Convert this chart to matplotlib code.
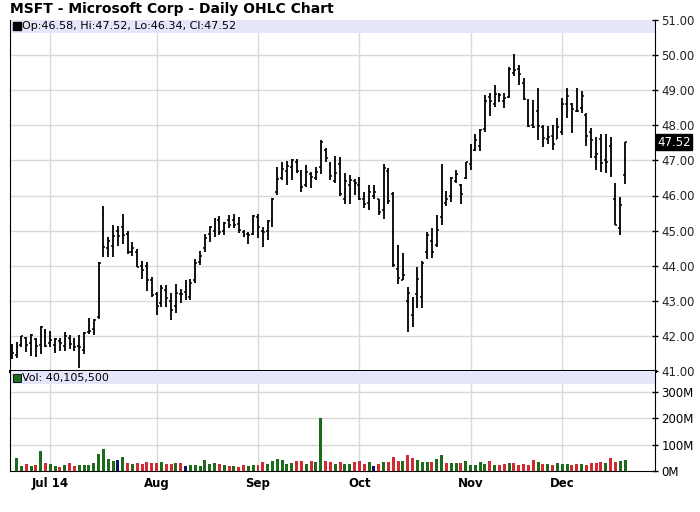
import numpy as np
import pandas as pd
import matplotlib

matplotlib.use("Agg")
import matplotlib.pyplot as plt

# --- data (MSFT daily, 19 Jun 2014 .. 18 Dec 2014) ---------------------------
holidays = ["2014-07-04", "2014-09-01", "2014-11-27"]
dates = [d for d in pd.bdate_range("2014-06-19", "2014-12-18")
         if d.strftime("%Y-%m-%d") not in holidays]

opens = [41.66, 41.45, 41.75, 41.95, 41.80, 41.90, 41.75, 42.10, 41.80, 41.75,
         41.85, 41.70, 41.95, 41.80, 41.70, 41.60, 42.10, 42.20, 42.55, 45.45,
         44.50, 44.55, 45.00, 45.10, 44.90, 44.40, 44.40, 44.00, 44.00, 43.60,
         43.20, 42.95, 43.30, 43.00, 42.85, 43.20, 43.25, 43.10, 43.60, 44.10,
         44.50, 44.90, 45.00, 45.30, 45.00, 45.30, 45.30, 45.20, 44.95, 44.90,
         44.90, 45.40, 45.00, 45.00, 45.30, 46.10, 46.50, 46.70, 46.80, 46.95,
         46.60, 46.30, 46.60, 46.50, 46.80, 47.30, 46.90, 46.40, 46.90, 45.90,
         46.30, 46.40, 46.30, 45.90, 45.80, 46.00, 45.90, 45.60, 46.70, 46.05,
         43.90, 43.60, 43.00, 42.60, 43.20, 43.10, 44.40, 44.70, 44.60, 45.40,
         45.80, 46.00, 46.40, 46.30, 46.50, 46.90, 47.30, 47.40, 47.90, 48.80,
         48.60, 48.85, 48.70, 48.80, 49.50, 49.60, 49.20, 48.20, 48.00, 48.40,
         47.95, 47.60, 47.70, 47.60, 47.80, 48.60, 48.60, 48.40, 48.50, 48.30,
         47.80, 47.10, 47.60, 47.00, 47.40, 45.89, 45.07, 46.58]
highs = [41.76, 41.84, 42.00, 41.98, 42.05, 41.95, 42.29, 42.19, 42.14, 41.95,
         41.95, 42.10, 42.03, 41.95, 42.03, 42.10, 42.50, 42.48, 44.11, 45.71,
         44.81, 45.16, 45.14, 45.46, 45.00, 44.67, 44.48, 44.14, 44.10, 43.67,
         43.24, 43.45, 43.45, 43.21, 43.48, 43.33, 43.59, 43.61, 44.18, 44.43,
         44.90, 45.13, 45.36, 45.41, 45.25, 45.44, 45.46, 45.39, 45.01, 44.97,
         45.44, 45.46, 45.11, 45.30, 45.94, 46.82, 46.96, 46.99, 47.03, 47.03,
         46.72, 46.87, 46.68, 46.82, 47.58, 47.34, 46.96, 47.12, 47.10, 46.63,
         46.58, 46.48, 46.53, 46.10, 46.29, 46.29, 45.91, 46.89, 46.79, 46.10,
         44.58, 44.36, 43.39, 43.10, 43.96, 44.13, 44.96, 45.06, 45.44, 46.91,
         46.13, 46.53, 46.72, 46.34, 46.96, 47.46, 47.75, 47.89, 48.86, 48.93,
         49.15, 48.93, 48.91, 49.65, 50.02, 49.72, 49.34, 48.74, 48.73, 49.05,
         48.00, 47.98, 48.00, 48.20, 48.77, 49.05, 48.63, 49.05, 48.99, 48.34,
         47.91, 47.67, 47.75, 47.75, 47.66, 46.35, 45.97, 47.52]
lows = [41.33, 41.38, 41.67, 41.55, 41.43, 41.41, 41.48, 41.69, 41.69, 41.52,
        41.57, 41.57, 41.62, 41.57, 41.09, 41.48, 42.05, 42.03, 42.48, 44.24,
        44.24, 44.24, 44.57, 44.62, 44.33, 44.29, 43.95, 43.62, 43.29, 43.10,
        42.60, 42.81, 42.83, 42.45, 42.66, 42.93, 43.02, 43.02, 43.52, 44.02,
        44.40, 44.68, 44.82, 44.87, 44.87, 45.06, 45.06, 44.92, 44.82, 44.62,
        44.87, 44.78, 44.54, 44.73, 45.11, 46.01, 46.44, 46.30, 46.44, 46.63,
        46.10, 46.25, 46.20, 46.44, 46.61, 46.96, 46.44, 46.35, 46.00, 45.77,
        45.77, 46.01, 45.86, 45.63, 45.60, 45.91, 45.44, 45.34, 45.77, 43.96,
        43.48, 43.58, 42.10, 42.25, 42.80, 42.80, 44.20, 44.23, 44.54, 45.15,
        45.69, 45.82, 46.36, 45.77, 46.48, 46.74, 47.26, 47.26, 47.82, 48.27,
        48.53, 48.65, 48.50, 48.77, 49.40, 49.15, 48.71, 47.95, 47.92, 47.58,
        47.39, 47.47, 47.30, 47.60, 47.73, 48.20, 47.79, 48.39, 48.36, 47.41,
        47.06, 46.73, 46.68, 46.65, 46.54, 45.15, 44.88, 46.34]
closes = [41.50, 41.68, 41.99, 41.75, 42.03, 41.72, 42.25, 41.70, 41.87, 41.90,
          41.80, 41.99, 41.78, 41.67, 41.69, 42.09, 42.14, 42.45, 44.08, 44.53,
          44.69, 44.84, 44.84, 44.87, 44.40, 44.50, 43.97, 43.89, 43.58, 43.16,
          42.86, 43.37, 43.08, 42.74, 43.23, 43.20, 43.20, 43.52, 44.08, 44.27,
          44.79, 45.11, 45.33, 44.95, 45.22, 45.15, 45.17, 45.01, 44.87, 44.88,
          45.43, 45.09, 44.96, 45.26, 45.91, 46.47, 46.76, 46.84, 47.00, 46.70,
          46.24, 46.68, 46.52, 46.68, 47.52, 47.06, 46.56, 46.64, 46.04, 46.41,
          46.44, 46.36, 45.90, 45.76, 46.09, 46.09, 45.53, 46.78, 45.85, 44.03,
          43.65, 43.73, 43.22, 42.74, 43.63, 44.08, 44.88, 44.38, 45.02, 46.13,
          45.91, 46.49, 46.62, 46.05, 46.95, 47.44, 47.57, 47.86, 48.70, 48.68,
          48.89, 48.87, 48.78, 49.61, 49.58, 49.46, 48.74, 47.98, 47.96, 47.98,
          47.63, 47.66, 47.47, 47.94, 48.62, 48.84, 48.46, 48.42, 48.84, 47.70,
          47.59, 47.17, 46.93, 46.95, 46.67, 45.16, 45.74, 47.52]
# volume in millions of shares (first session has no bar on the chart)
volume_m = [None, 48.7, 18.7, 26.0, 19.0, 22.0, 75.0, 30.0, 25.0, 19.0,
            15.0, 22.0, 30.0, 19.0, 22.0, 22.0, 22.0, 30.0, 64.0, 82.0,
            45.0, 37.0, 41.0, 52.0, 30.0, 26.0, 30.0, 26.0, 34.0, 30.0,
            30.0, 34.0, 26.0, 26.0, 30.0, 30.0, 19.0, 22.0, 22.0, 19.0,
            41.0, 26.0, 30.0, 26.0, 22.0, 19.0, 19.0, 15.0, 22.0, 19.0,
            22.0, 22.0, 34.0, 26.0, 37.0, 45.0, 41.0, 26.0, 30.0, 37.0,
            37.0, 26.0, 37.0, 34.0, 202.0, 37.0, 34.0, 26.0, 34.0, 26.0,
            26.0, 34.0, 37.0, 26.0, 34.0, 19.0, 26.0, 34.0, 34.0, 52.0,
            37.0, 37.0, 60.0, 49.0, 41.0, 34.0, 34.0, 34.0, 45.0, 60.0,
            30.0, 30.0, 30.0, 30.0, 37.0, 22.0, 22.0, 34.0, 26.0, 37.0,
            22.0, 22.0, 26.0, 30.0, 30.0, 22.0, 26.0, 22.0, 41.0, 34.0,
            26.0, 26.0, 22.0, 30.0, 26.0, 26.0, 22.0, 26.0, 26.0, 22.0,
            30.0, 30.0, 34.0, 30.0, 49.0, 34.0, 37.0, 40.1055]
last_volume = 40105500

month_names = ["Jul 14", "Aug", "Sep", "Oct", "Nov", "Dec"]

# --- layout -----------------------------------------------------------------
W, H = 700, 512
GRID = "#d9d9d9"
BAND = "#e6e6fa"
UP, DOWN, FLAT = "#1b6b1b", "#d02a33", "#10106e"

fig = plt.figure(figsize=(W / 100, H / 100), dpi=100)
ax = fig.add_axes([10 / W, 1 - 371 / H, 645 / W, 351 / H])
axv = fig.add_axes([10 / W, 1 - 471 / H, 645 / W, 100 / H], sharex=ax)

x = np.arange(len(closes))
o, hi, lo, cl = (np.array(a) for a in (opens, highs, lows, closes))

# month gridlines at first session of each month
months = pd.Series([d.month for d in dates])
month_pos = [int(i) for i in months.index[months != months.shift()]][1:]

xlim = (-0.35, 133.2)
for a in (ax, axv):
    a.set_xlim(*xlim)
    for m in month_pos:
        a.axvline(m, color=GRID, lw=1, zorder=0)
    a.spines["top"].set_visible(False)
    a.tick_params(axis="x", length=0)
    a.yaxis.tick_right()
    a.tick_params(axis="y", direction="inout", length=5, width=1, pad=2,
                  labelsize=8.5, colors="black")

# --- price panel ------------------------------------------------------------
ax.set_ylim(41, 51)
ax.set_yticks(np.arange(41, 52, 1))
ax.set_yticklabels([f"{v:.2f}" for v in np.arange(41, 52, 1)],
                   family="DejaVu Sans", color="#222")
for v in np.arange(42, 51, 1):
    ax.axhline(v, color=GRID, lw=1, zorder=0)
ax.spines["bottom"].set_linewidth(2.2)
ax.tick_params(axis="x", labelbottom=False)

ax.vlines(x, lo, hi, color="black", lw=1.3, zorder=3)
ax.hlines(o, x - 0.4, x, color="black", lw=1.1, zorder=3)
ax.hlines(cl, x, x + 0.4, color="black", lw=1.1, zorder=3)

band_h = 0.37
ax.axhspan(51 - band_h, 51, color=BAND, zorder=1, lw=0)
ax.plot([1.0], [51 - band_h / 2], marker="s", ms=5.5, color="black",
        zorder=4, clip_on=False)
ax.text(2.2, 51 - band_h / 2,
        f"Op:{o[-1]:.2f}, Hi:{hi[-1]:.2f}, Lo:{lo[-1]:.2f}, Cl:{cl[-1]:.2f}",
        va="center", ha="left", fontsize=8, zorder=4)

# last close tag on the right axis
ax.text(1.003, (cl[-1] - 41) / 10, f"{cl[-1]:.2f}", transform=ax.transAxes,
        ha="left", va="center", fontsize=8.5, color="white",
        bbox=dict(boxstyle="square,pad=0.12", fc="black", ec="black"))

# --- volume panel -----------------------------------------------------------
vol = np.array([np.nan if v is None else v for v in volume_m])
prev = np.r_[np.nan, cl[:-1]]
colors = [UP if c > p else DOWN if c < p else FLAT for c, p in zip(cl, prev)]
mask = ~np.isnan(vol)
axv.bar(x[mask], vol[mask], width=0.62,
        color=[c for c, m in zip(colors, mask) if m], zorder=3)

axv.set_ylim(0, 380)
axv.set_yticks([0, 100, 200, 300])
axv.set_yticklabels(["0M", "100M", "200M", "300M"])
for v in (100, 200, 300):
    axv.axhline(v, color=GRID, lw=1, zorder=0)
vband = 380 * 13 / 100
axv.axhspan(380 - vband, 380, color=BAND, zorder=1, lw=0)
axv.plot([1.0], [380 - vband / 2], marker="s", ms=5.5, color=UP,
         markeredgecolor="black", markeredgewidth=0.6, zorder=4, clip_on=False)
axv.text(2.2, 380 - vband / 2, f"Vol: {last_volume:,}", va="center",
         ha="left", fontsize=8, zorder=4)

axv.set_xticks(month_pos)
axv.set_xticklabels(month_names, fontweight="bold", fontsize=8.5)
axv.tick_params(axis="x", pad=4)

fig.text(10 / W, 1 - 9 / H, "MSFT - Microsoft Corp - Daily OHLC Chart",
         ha="left", va="center", fontsize=10, fontweight="bold")

fig.savefig("out.png", dpi=100, facecolor="white")
